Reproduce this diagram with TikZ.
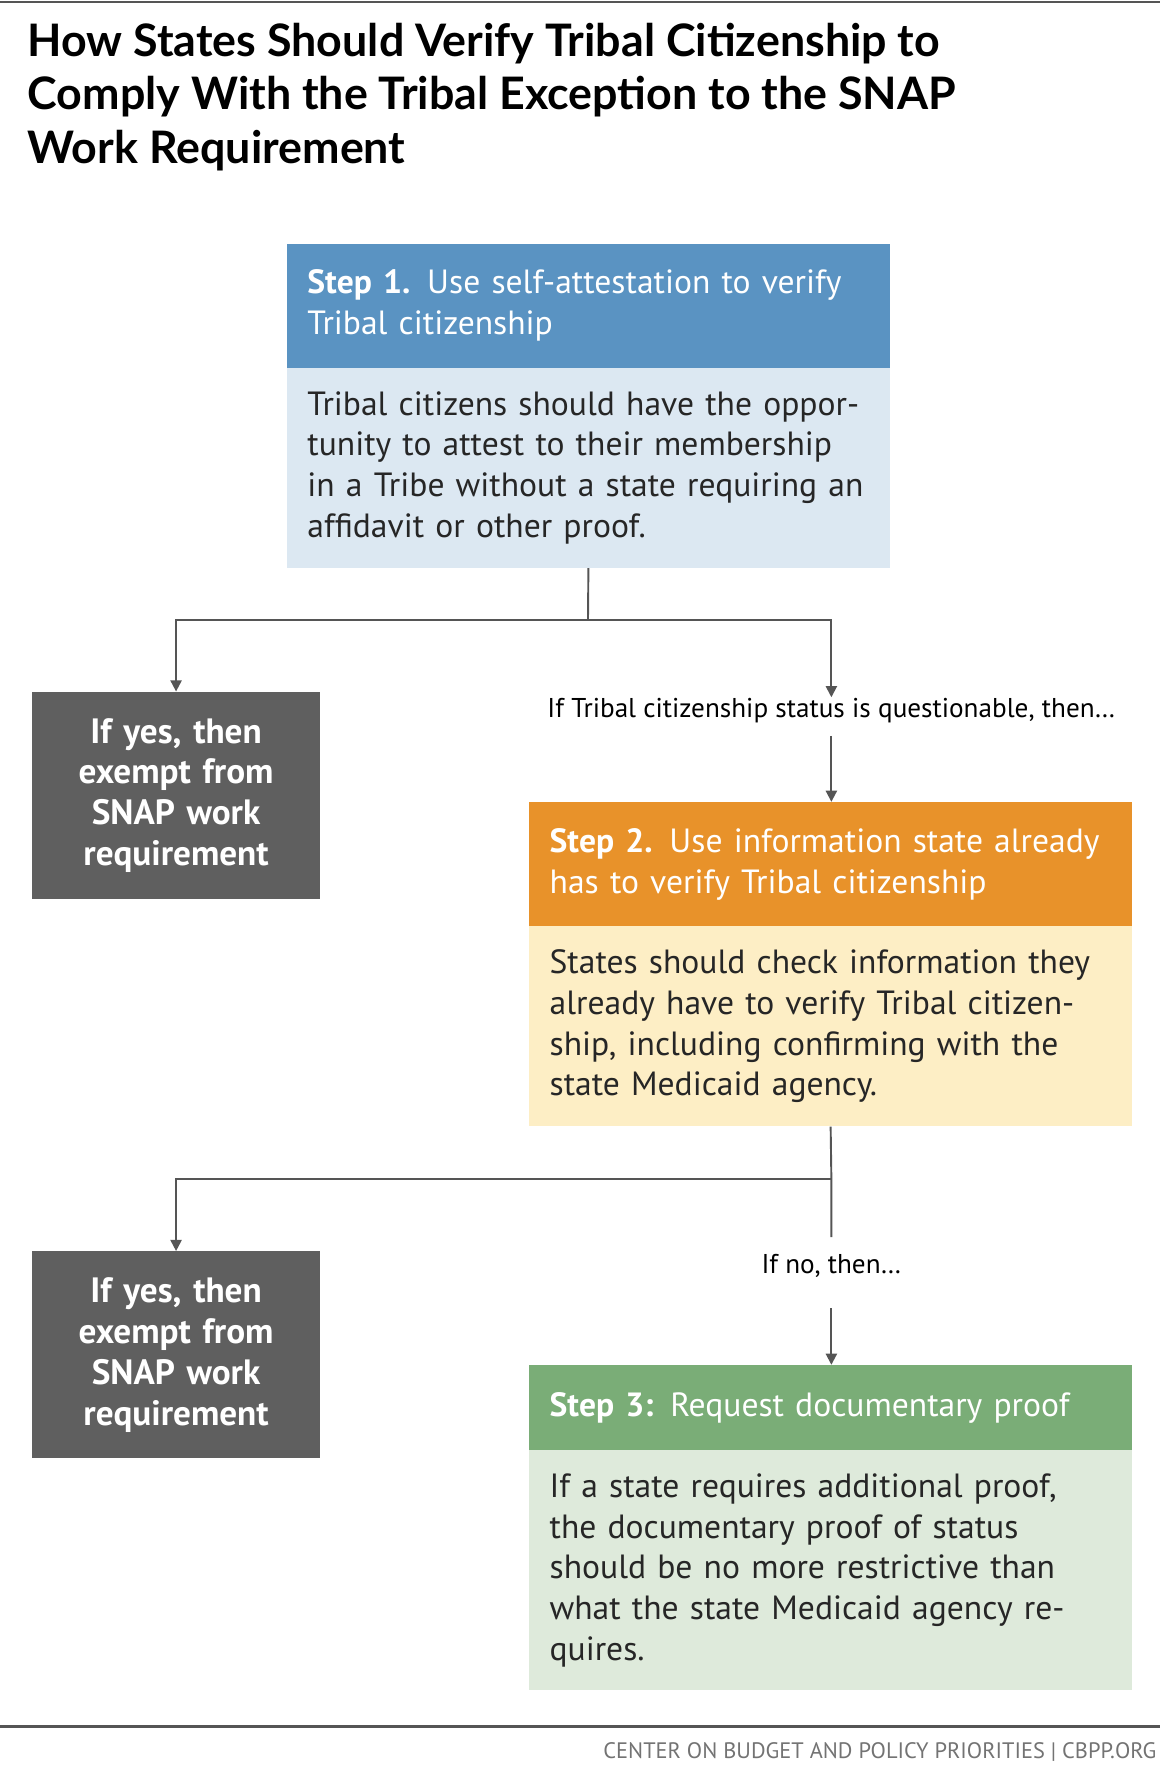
\documentclass[tikz,border=0pt]{standalone}
\usepackage{fontspec}
\setmainfont{PT Sans}
\newfontfamily\titlefont{Lato}
\usetikzlibrary{arrows.meta,positioning}
\definecolor{blueh}{HTML}{5A93C2}
\definecolor{blueb}{HTML}{DCE8F2}
\definecolor{orah}{HTML}{E8922A}
\definecolor{orab}{HTML}{FDEEC5}
\definecolor{greh}{HTML}{7AAD77}
\definecolor{greb}{HTML}{DEEADB}
\definecolor{gbox}{HTML}{5F5F5F}
\definecolor{lnc}{HTML}{555555}
\tikzset{
  head/.style={anchor=north west,minimum width=13.25cm,text width=12.35cm,inner xsep=0.45cm,
    align=left,text=white,font=\fontsize{21}{25.5}\selectfont},
  body/.style={anchor=north west,minimum width=13.25cm,text width=12.35cm,inner xsep=0.45cm,
    align=left,text=black!85,font=\fontsize{21}{25.5}\selectfont},
  gray box/.style={anchor=north west,fill=gbox,minimum width=6.325cm,minimum height=4.55cm,
    text width=5.8cm,align=center,text=white,font=\bfseries\fontsize{22}{25.5}\selectfont},
  lbl/.style={font=\fontsize{17}{20}\selectfont,inner sep=2pt},
  line/.style={draw=lnc,line width=1.2pt},
  arr/.style={line,-{Triangle[width=7pt,length=7pt]}}
}
\begin{document}
\begin{tikzpicture}[x=0.025cm,y=-0.025cm]
  \useasboundingbox (0,0) rectangle (1020,1573);
  \draw[lnc,line width=1.5pt] (0,2) -- (1020,2);
  \node[anchor=north west,align=left,inner sep=0,font=\titlefont\bfseries\fontsize{28}{33.5}\selectfont]
    (title) at (24,20) {How States Should Verify Tribal Citizenship to\\Comply With the Tribal Exception to the SNAP\\Work Requirement};

  % step 1
  \node[head,fill=blueh,minimum height=2.725cm] (s1h) at (252,214)
    {\textbf{Step 1.} Use self-attestation to verify Tribal citizenship};
  \node[body,fill=blueb,minimum height=4.4cm] (s1b) at (252,323)
    {Tribal citizens should have the opportunity to attest to their membership in a Tribe without a state requiring an affidavit or other proof.};

  \node[gray box] (g1) at (28,608) {If yes, then exempt from SNAP work requirement};
  \node[lbl] (q) at (731,625) {If Tribal citizenship status is questionable, then\ldots};

  % step 2
  \node[head,fill=orah,minimum height=2.725cm] (s2h) at (465,705)
    {\textbf{Step 2.} Use information state already has to verify Tribal citizenship};
  \node[body,fill=orab,minimum height=4.4cm] (s2b) at (465,814)
    {States should check information they already have to verify Tribal citizenship, including confirming with the state Medicaid agency.};

  \node[gray box] (g2) at (28,1100) {If yes, then exempt from SNAP work requirement};
  \node[lbl] (n) at (731,1113) {If no, then\ldots};

  % step 3
  \node[head,fill=greh,minimum height=1.875cm] (s3h) at (465,1200)
    {\textbf{Step 3:} Request documentary proof};
  \node[body,fill=greb,minimum height=5.275cm] (s3b) at (465,1275)
    {If a state requires additional proof, the documentary proof of status should be no more restrictive than what the state Medicaid agency requires.};

  % connectors
  \coordinate (j1) at (517,545);
  \coordinate (j2) at (731,1037);
  \draw[line] (s1b.south) -- (j1);
  \draw[arr] (j1) -| (g1.north);
  \draw[arr] (j1) -| ([yshift=-0.05cm]q.north);
  \draw[arr,shorten <=0.2cm] (q.south) -- (s2h.north -| q);
  \draw[line] (s2b.south) -- (j2) -- ([yshift=0.3cm]n.north);
  \draw[arr] (j2) -| (g2.north);
  \draw[arr,shorten <=0.6cm] (n.south) -- (s3h.north -| n);

  \draw[lnc,line width=1.5pt] (0,1518) -- (1020,1518);
  \node[anchor=east,text=black!55,inner sep=0,font=\fontsize{14}{16}\selectfont] (foot) at (1017,1540)
    {CENTER ON BUDGET AND POLICY PRIORITIES | CBPP.ORG};
\end{tikzpicture}
\end{document}
